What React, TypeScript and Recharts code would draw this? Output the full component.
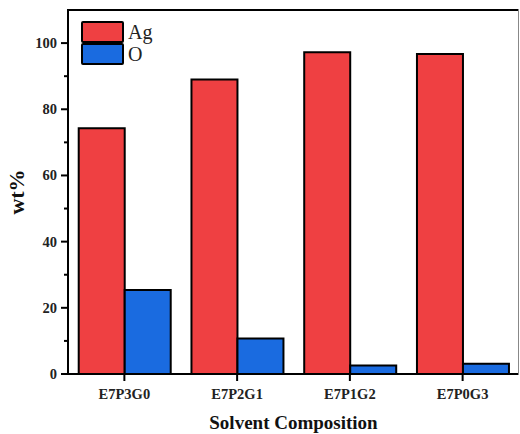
import { BarChart, Bar, XAxis, YAxis } from "recharts";

const categories = ["E7P3G0", "E7P2G1", "E7P1G2", "E7P0G3"];
const agValues = [74.3, 89.0, 97.2, 96.7];
const oValues = [25.4, 10.7, 2.6, 3.1];
const yTicks = [0, 10, 20, 30, 40, 50, 60, 70, 80, 90, 100];

const AG_COLOR = "#ef4042";
const O_COLOR = "#1a6be0";
const FONT = "'Liberation Serif', 'Times New Roman', serif";

const data = categories.map((name, i) => ({ name, Ag: agValues[i], O: oValues[i] }));

function YTick(props: any) {
  const { y, payload } = props;
  const v = payload.value as number;
  const major = v % 20 === 0;
  const axisX = 68;
  return (
    <g>
      <line x1={axisX - (major ? 7 : 4)} x2={axisX} y1={y} y2={y} stroke="#000" strokeWidth={2} />
      {major && (
        <text
          x={axisX - 11}
          y={y}
          dy={5}
          textAnchor="end"
          fontFamily={FONT}
          fontWeight="bold"
          fontSize={14.5}
          fill="#222"
        >
          {v}
        </text>
      )}
    </g>
  );
}

function XTick(props: any) {
  const { x, payload } = props;
  return (
    <g>
      <line x1={x} x2={x} y1={374} y2={381} stroke="#000" strokeWidth={2} />
      <text
        x={x}
        y={399}
        textAnchor="middle"
        fontFamily={FONT}
        fontWeight="bold"
        fontSize={14.5}
        fill="#222"
      >
        {payload.value}
      </text>
    </g>
  );
}

function LegendBox() {
  const item = (label: string, color: string) => (
    <div style={{ display: "flex", alignItems: "center", height: 22 }}>
      <div
        style={{
          width: 39,
          height: 18,
          background: color,
          border: "2px solid #000",
          borderRadius: 2,
        }}
      />
      <span style={{ fontFamily: FONT, fontSize: 20, marginLeft: 4, color: "#222", lineHeight: "22px" }}>
        {label}
      </span>
    </div>
  );
  return (
    <div style={{ position: "absolute", left: 81, top: 21 }}>
      {item("Ag", AG_COLOR)}
      {item("O", O_COLOR)}
    </div>
  );
}

export default function App() {
  return (
    <div style={{ position: "absolute", left: 0, top: 0, width: 520, height: 434, background: "#fff" }}>
      <BarChart
        width={520}
        height={434}
        data={data}
        margin={{ top: 10, right: 1, left: 0, bottom: 0 }}
        barCategoryGap="9.5%"
        barGap={0}
      >
        <XAxis
          dataKey="name"
          stroke="#000"
          strokeWidth={2}
          tickLine={false}
          tick={<XTick />}
          height={60}
          label={{
            value: "Solvent Composition",
            position: "insideBottom",
            offset: 5,
            style: { fontFamily: FONT, fontWeight: "bold", fontSize: 19, fill: "#111" },
          }}
        />
        <YAxis
          domain={[0, 110]}
          ticks={yTicks}
          width={68}
          stroke="#000"
          strokeWidth={2}
          tickLine={false}
          tick={<YTick />}
          interval={0}
          label={{
            value: "wt%",
            angle: -90,
            position: "insideLeft",
            offset: 16,
            style: { fontFamily: FONT, fontWeight: "bold", fontSize: 22, fill: "#111", textAnchor: "middle" },
          }}
        />
        <Bar dataKey="Ag" fill={AG_COLOR} stroke="#000" strokeWidth={2} isAnimationActive={false} />
        <Bar dataKey="O" fill={O_COLOR} stroke="#000" strokeWidth={2} isAnimationActive={false} />
      </BarChart>
      <div style={{ position: "absolute", left: 67, top: 9, width: 452, height: 2, background: "#000" }} />
      <div style={{ position: "absolute", left: 518, top: 9, width: 1, height: 366, background: "#888" }} />
      <LegendBox />
    </div>
  );
}
